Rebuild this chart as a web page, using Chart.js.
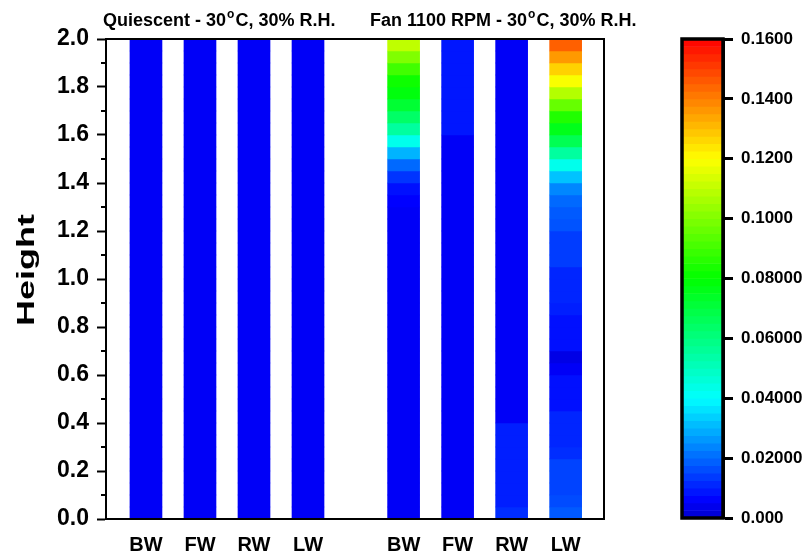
<!DOCTYPE html>
<html>
<head>
<meta charset="utf-8">
<script src="https://cdn.jsdelivr.net/npm/chart.js@4"></script>
<style>
  html, body { margin: 0; padding: 0; background: #fff; }
  #main { position: absolute; left: 0; top: 0; width: 650px; height: 553px; }
  #scale { position: absolute; left: 650px; top: 0; width: 159px; height: 553px; }
</style>
</head>
<body>
<div id="main"><canvas id="heightChart"></canvas></div>
<div id="scale"><canvas id="scaleChart"></canvas></div>
<script>
// column names and where they sit on the x axis
const columnLabels = ['BW', 'FW', 'RW', 'LW', 'BW', 'FW', 'RW', 'LW'];
const columnPos = [1, 2, 3, 4, 5.77, 6.77, 7.77, 8.77];

// cell values, bottom (height 0.00) to top (height 2.00), one per 0.05 of height
const qBW = [0.005,0.005,0.005,0.005,0.005,0.005,0.005,0.005,0.005,0.005,0.005,0.005,0.005,0.005,0.005,0.005,0.005,0.005,0.005,0.005,
             0.005,0.005,0.005,0.005,0.005,0.005,0.005,0.005,0.005,0.005,0.005,0.005,0.005,0.005,0.005,0.005,0.005,0.005,0.005,0.005];
const qFW = [0.005,0.005,0.005,0.005,0.005,0.005,0.005,0.005,0.005,0.005,0.005,0.005,0.005,0.005,0.005,0.005,0.005,0.005,0.005,0.005,
             0.005,0.005,0.005,0.005,0.005,0.005,0.005,0.005,0.005,0.005,0.005,0.005,0.005,0.005,0.005,0.005,0.005,0.005,0.005,0.005];
const qRW = [0.005,0.005,0.005,0.005,0.005,0.005,0.005,0.005,0.005,0.005,0.005,0.005,0.005,0.005,0.005,0.005,0.005,0.005,0.005,0.005,
             0.005,0.005,0.005,0.005,0.005,0.005,0.005,0.005,0.005,0.005,0.005,0.005,0.005,0.005,0.005,0.005,0.005,0.005,0.005,0.005];
const qLW = [0.005,0.005,0.005,0.005,0.005,0.005,0.005,0.005,0.005,0.005,0.005,0.005,0.005,0.005,0.005,0.005,0.005,0.005,0.005,0.005,
             0.005,0.005,0.005,0.005,0.005,0.005,0.005,0.005,0.005,0.005,0.005,0.005,0.005,0.005,0.005,0.005,0.005,0.005,0.005,0.005];
const fanBW = [0.005,0.005,0.005,0.005,0.005,0.005,0.005,0.005,0.005,0.005,0.005,0.005,0.005,0.005,0.005,0.005,0.005,0.005,0.005,0.005,
               0.005,0.005,0.005,0.005,0.005,0.005,0.006,0.008,0.013,0.020,0.030,0.043,0.055,0.064,0.072,0.078,0.082,0.090,0.100,0.110];
const fanFW = [0.005,0.005,0.005,0.005,0.005,0.005,0.005,0.005,0.005,0.005,0.005,0.005,0.005,0.005,0.005,0.005,0.005,0.005,0.005,0.005,
               0.005,0.005,0.005,0.005,0.005,0.005,0.005,0.005,0.005,0.005,0.005,0.005,0.009,0.009,0.009,0.009,0.009,0.009,0.009,0.009];
const fanRW = [0.012,0.010,0.010,0.010,0.010,0.010,0.010,0.010,0.005,0.005,0.005,0.005,0.005,0.005,0.005,0.005,0.005,0.005,0.005,0.005,
               0.005,0.005,0.005,0.005,0.005,0.005,0.005,0.005,0.005,0.005,0.005,0.005,0.005,0.005,0.005,0.005,0.005,0.005,0.005,0.005];
const fanLW = [0.018,0.016,0.015,0.015,0.015,0.012,0.011,0.011,0.011,0.008,0.008,0.008,0.005,0.003,0.008,0.008,0.008,0.010,0.011,0.011,
               0.011,0.014,0.014,0.014,0.017,0.018,0.020,0.024,0.032,0.043,0.055,0.067,0.076,0.085,0.096,0.108,0.119,0.127,0.136,0.145];

// colour bar tick labels, 0 to 0.16 in steps of 0.02
const scaleLabels = ['0.000', '0.02000', '0.04000', '0.06000', '0.08000', '0.1000', '0.1200', '0.1400', '0.1600'];

const cellSize = 0.05;
const scaleMax = 0.16;
const bandSize = 0.0025;

// rainbow palette: dark blue -> blue -> cyan -> green -> yellow -> red
const stops = [
  [0, [0, 0, 205]],
  [0.006, [0, 0, 255]],
  [0.04, [0, 255, 255]],
  [0.08, [0, 255, 0]],
  [0.12, [255, 255, 0]],
  [0.16, [255, 0, 0]]
];
function colorFor(v) {
  v = Math.max(0, Math.min(scaleMax, v));
  for (let i = 1; i < stops.length; i++) {
    if (v <= stops[i][0]) {
      const [a, ca] = stops[i - 1], [b, cb] = stops[i];
      const t = (v - a) / (b - a);
      const c = ca.map((x, k) => Math.round(x + (cb[k] - x) * t));
      return `rgb(${c[0]},${c[1]},${c[2]})`;
    }
  }
  return 'rgb(255,0,0)';
}

Chart.defaults.font.family = "'Liberation Sans', Arial, sans-serif";
Chart.defaults.color = '#000';

const boldFont = size => ({ family: "'Liberation Sans', Arial, sans-serif", weight: 'bold', size: size });

// black box around the plot area
const frame = {
  id: 'frame',
  afterDraw(chart, args, opts) {
    const { ctx, chartArea: a } = chart;
    ctx.save();
    ctx.strokeStyle = '#000';
    ctx.lineWidth = opts.width || 2;
    ctx.strokeRect(a.left, a.top, a.right - a.left, a.bottom - a.top);
    ctx.restore();
  }
};

// short ticks halfway between the labelled ones
const minorTicks = {
  id: 'minorTicks',
  afterDraw(chart) {
    const { ctx, chartArea: a, scales: { y } } = chart;
    ctx.save();
    ctx.strokeStyle = '#000';
    ctx.lineWidth = 2;
    for (let v = 0.1; v < 2; v += 0.2) {
      const p = Math.round(y.getPixelForValue(v));
      ctx.beginPath();
      ctx.moveTo(a.left - 5, p);
      ctx.lineTo(a.left, p);
      ctx.stroke();
    }
    ctx.restore();
  }
};

// group headings and the rotated axis title
function drawHeading(ctx, x, y, before, after) {
  ctx.font = "bold 18px 'Liberation Sans', Arial, sans-serif";
  ctx.fillText(before, x, y);
  x += ctx.measureText(before).width + 1;
  ctx.font = "bold 12px 'Liberation Sans', Arial, sans-serif";
  ctx.fillText('o', x, y - 8);
  x += ctx.measureText('o').width + 1;
  ctx.font = "bold 18px 'Liberation Sans', Arial, sans-serif";
  ctx.fillText(after, x, y);
}
const labels = {
  id: 'labels',
  afterDraw(chart) {
    const ctx = chart.ctx;
    ctx.save();
    ctx.fillStyle = '#000';
    ctx.textBaseline = 'alphabetic';
    ctx.textAlign = 'left';
    drawHeading(ctx, 103, 26, 'Quiescent - 30', 'C, 30% R.H.');
    drawHeading(ctx, 370, 26, 'Fan 1100 RPM - 30', 'C, 30% R.H.');
    ctx.translate(34, 270);
    ctx.rotate(-Math.PI / 2);
    ctx.scale(1.5, 1);
    ctx.textAlign = 'center';
    ctx.font = "bold 24px 'Liberation Sans', Arial, sans-serif";
    ctx.fillText('Height', 0, 0);
    ctx.restore();
  }
};

const columns = [qBW, qFW, qRW, qLW, fanBW, fanFW, fanRW, fanLW];
const datasets = columns.map((vals, c) => ({
  data: vals.map((v, i) => ({ x: columnPos[c], y: [i * cellSize, (i + 1) * cellSize] })),
  backgroundColor: vals.map(colorFor),
  borderWidth: 0,
  barThickness: 32,
  grouped: false
}));

new Chart(document.getElementById('heightChart'), {
  type: 'bar',
  data: { datasets: datasets },
  options: {
    responsive: true,
    maintainAspectRatio: false,
    animation: false,
    layout: { padding: { top: 39, right: 46, left: 0, bottom: 0 } },
    plugins: {
      legend: { display: false },
      tooltip: { enabled: false },
      frame: { width: 2 }
    },
    scales: {
      x: {
        type: 'linear',
        min: 0.26,
        max: 9.48,
        offset: false,
        afterFit: s => { s.height = 34; },
        afterBuildTicks: s => { s.ticks = columnPos.map(v => ({ value: v })); },
        grid: { display: false, drawTicks: false },
        border: { display: true, color: '#000', width: 2 },
        ticks: {
          autoSkip: false,
          maxRotation: 0,
          padding: 14,
          color: '#000',
          font: boldFont(20),
          callback: (v, i) => columnLabels[i]
        }
      },
      y: {
        min: 0,
        max: 2,
        afterFit: s => { s.width = 106; },
        ticks: {
          stepSize: 0.2,
          padding: 8,
          color: '#000',
          font: boldFont(23),
          callback: v => v.toFixed(1)
        },
        grid: { display: true, drawOnChartArea: false, tickLength: 9, tickWidth: 2, tickColor: '#000' },
        border: { display: true, color: '#000', width: 2 }
      }
    }
  },
  plugins: [frame, minorTicks, labels]
});

// colour bar
const bands = [];
for (let v = 0; v < scaleMax - 1e-9; v += bandSize) bands.push(v);

new Chart(document.getElementById('scaleChart'), {
  type: 'bar',
  data: {
    datasets: [{
      data: bands.map(v => ({ x: 0.5, y: [v, v + bandSize] })),
      backgroundColor: bands.map(v => colorFor(v + bandSize / 2)),
      borderWidth: 0,
      barThickness: 41,
      grouped: false
    }]
  },
  options: {
    responsive: true,
    maintainAspectRatio: false,
    animation: false,
    layout: { padding: { top: 39, right: 0, left: 32, bottom: 35 } },
    plugins: {
      legend: { display: false },
      tooltip: { enabled: false },
      frame: { width: 3.5 }
    },
    scales: {
      x: { type: 'linear', min: 0, max: 1, offset: false, display: false },
      y: {
        position: 'right',
        min: 0,
        max: scaleMax,
        afterFit: s => { s.width = 86; },
        ticks: {
          stepSize: 0.02,
          padding: 8,
          color: '#000',
          font: boldFont(17),
          callback: v => scaleLabels[Math.round(v / 0.02)]
        },
        grid: { display: true, drawOnChartArea: false, tickLength: 10, tickWidth: 3, tickColor: '#000' },
        border: { display: true, color: '#000', width: 3 }
      }
    }
  },
  plugins: [frame]
});
</script>
</body>
</html>
